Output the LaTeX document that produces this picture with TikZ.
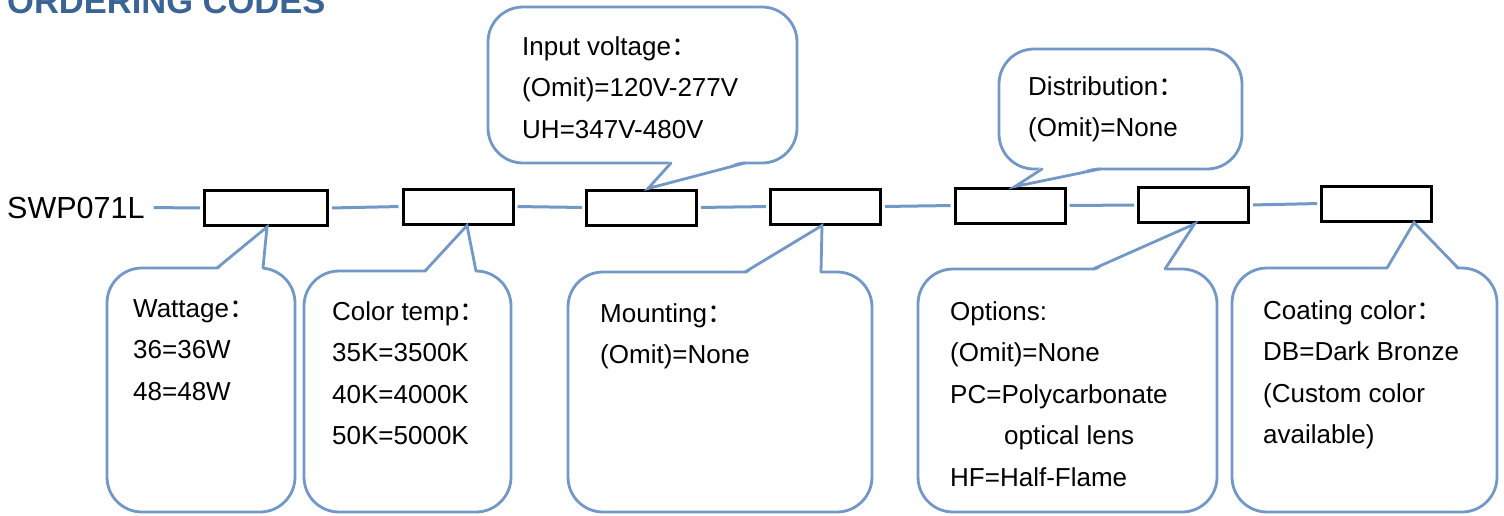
\documentclass[tikz,border=0pt]{standalone}
\usepackage{fontspec}
\setmainfont{Liberation Sans}
\newfontfamily\cjk{Noto Sans CJK SC}
\definecolor{calloutblue}{RGB}{113,152,198}
\definecolor{titleblue}{RGB}{58,100,150}
\newcommand{\fwcolon}{{\cjk ：}}

\begin{document}
\begin{tikzpicture}[
    x=1pt, y=-1pt,
    codebox/.style={rectangle, draw=black, line width=3pt, fill=white, minimum width=110pt, minimum height=35pt, inner sep=0pt},
    bubble/.style={draw=calloutblue, line width=2.8pt, rounded corners=35pt},
    pointer/.style={draw=calloutblue, line width=2.8pt, line cap=round},
    link/.style={draw=calloutblue, line width=3pt, shorten <=3pt, shorten >=3pt},
    note/.style={anchor=base west, align=left, inner sep=0pt, font=\fontsize{26}{41.5}\selectfont}
]
\useasboundingbox (0,0) rectangle (1504,515);
% Title
\node[anchor=base west, inner sep=0pt, font=\fontsize{34.5}{40}\selectfont\bfseries, text=titleblue] (title) at (7,13) {ORDERING CODES};
% Code line
\node[anchor=base west, inner sep=0pt, font=\fontsize{30.5}{36}\selectfont] (code) at (7,218) {SWP071L};
\node[codebox, minimum width=123pt] (b1) at (266,208) {};
\node[codebox] (b2) at (458,206.5) {};
\node[codebox] (b3) at (641.5,207.5) {};
\node[codebox] (b4) at (825.5,206.5) {};
\node[codebox] (b5) at (1010,205.5) {};
\node[codebox] (b6) at (1193.5,205) {};
\node[codebox] (b7) at (1376.5,203.5) {};
\draw[link, shorten <=9pt] (code.east) -- (b1.west);
\draw[link] (b1.east) -- (b2.west);
\draw[link] (b2.east) -- (b3.west);
\draw[link] (b3.east) -- (b4.west);
\draw[link] (b4.east) -- (b5.west);
\draw[link] (b5.east) -- (b6.west);
\draw[link] (b6.east) -- (b7.west);
% Input voltage
\draw[bubble] (488,7) rectangle (797,163);
\fill[white] (671,160.5) -- ([xshift=6.5pt]b3.north) -- (745,160.5) -- cycle;
\draw[pointer] (671,163) -- ([xshift=6.5pt]b3.north) -- (745,163);
\node[note] (ti) at (522,138) {Input voltage\fwcolon\\(Omit)=120V-277V\\UH=347V-480V};
% Distribution
\draw[bubble] (999,49) rectangle (1242,169);
\fill[white] (1042,166.5) -- ([xshift=5pt]b5.north) -- (1100,166.5) -- cycle;
\draw[pointer] (1042,169) -- ([xshift=5pt]b5.north) -- (1100,169);
\node[note] (td) at (1028,136.5) {Distribution\fwcolon\\(Omit)=None};
% Wattage
\draw[bubble] (107,268) rectangle (295,512);
\fill[white] (217,270.5) -- ([xshift=1pt]b1.south) -- (263,270.5) -- cycle;
\draw[pointer] (217,268) -- ([xshift=1pt]b1.south) -- (263,268);
\node[note] (tw) at (133,400) {Wattage\fwcolon\\36=36W\\48=48W};
% Color temp
\draw[bubble] (304,271) rectangle (511,512);
\fill[white] (425,273.5) -- ([xshift=9pt]b2.south) -- (476,273.5) -- cycle;
\draw[pointer] (425,271) -- ([xshift=9pt]b2.south) -- (476,271);
\node[note] (tc) at (332,444.5) {Color temp\fwcolon\\35K=3500K\\40K=4000K\\50K=5000K};
% Mounting
\draw[bubble] (568,272) rectangle (872,512);
\fill[white] (745,274.5) -- ([xshift=-3.5pt]b4.south) -- (821,274.5) -- cycle;
\draw[pointer] (745,272) -- ([xshift=-3.5pt]b4.south) -- (821,272);
\node[note] (tm) at (600,363.5) {Mounting\fwcolon\\(Omit)=None};
% Options
\draw[bubble] (918,269) rectangle (1217,512);
\fill[white] (1093,271.5) -- ([xshift=1pt]b6.south) -- (1165,271.5) -- cycle;
\draw[pointer] (1093,269) -- ([xshift=1pt]b6.south) -- (1165,269);
\node[note] (to) at (950,486) {Options:\\(Omit)=None\\PC=Polycarbonate\\\hspace*{54pt}optical lens\\HF=Half-Flame};
% Coating color
\draw[bubble] (1232,268) rectangle (1497,512);
\fill[white] (1387,270.5) -- ([xshift=37.5pt]b7.south) -- (1458,270.5) -- cycle;
\draw[pointer] (1387,268) -- ([xshift=37.5pt]b7.south) -- (1458,268);
\node[note] (tcc) at (1263,443.5) {Coating color\fwcolon\\DB=Dark Bronze\\(Custom color\\available)};
\end{tikzpicture}
\end{document}
